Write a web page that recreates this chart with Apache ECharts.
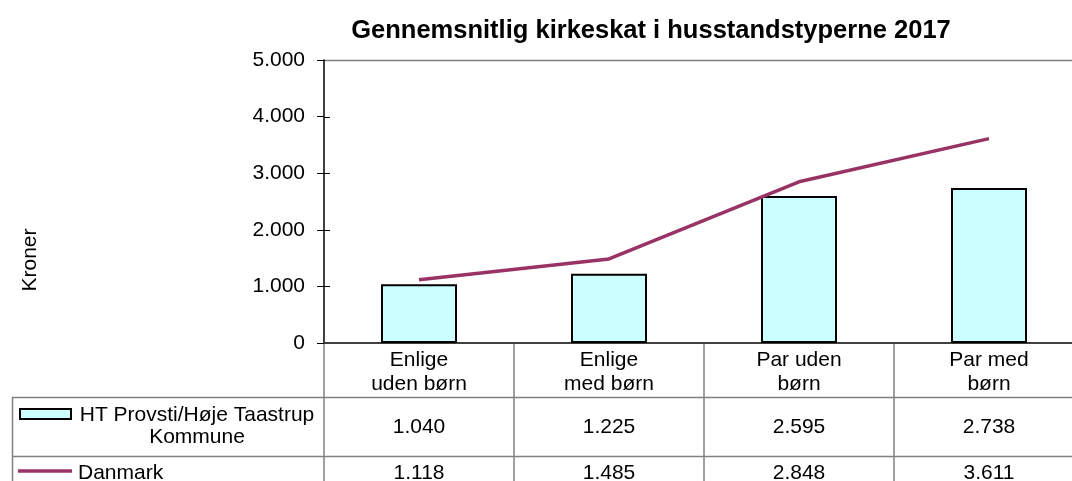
<!DOCTYPE html>
<html>
<head>
<meta charset="utf-8">
<title>Gennemsnitlig kirkeskat i husstandstyperne 2017</title>
<script src="https://cdn.jsdelivr.net/npm/echarts@6/dist/echarts.min.js"></script>
<style>
  html, body { margin: 0; padding: 0; background: #fff; }
  #chart { width: 1072px; height: 481px; }
</style>
</head>
<body>
<div id="chart"></div>
<script>
// data
var categories = ['Enlige\nuden børn', 'Enlige\nmed børn', 'Par uden\nbørn', 'Par med\nbørn'];
var seriesNames = ['HT Provsti/Høje Taastrup\nKommune', 'Danmark'];
var htValues = [1040, 1225, 2595, 2738];
var dkValues = [1118, 1485, 2848, 3611];
var yTicks = [0, 1000, 2000, 3000, 4000, 5000];

var FONT = '"Liberation Sans", Arial, sans-serif';
var FS = 21;

// danish thousands separator
function fmt(v) {
    return String(v).replace(/\B(?=(\d{3})+(?!\d))/g, '.');
}

var gridLeft = 324, gridTop = 60, gridBottomY = 343, gridWidth = 760;
var tableGray = '#808080';

var chart = echarts.init(document.getElementById('chart'));

var option = {
    animation: false,
    title: {
        text: 'Gennemsnitlig kirkeskat i husstandstyperne 2017',
        left: 646,
        top: 13,
        textAlign: 'center',
        textStyle: { fontFamily: FONT, fontSize: 25.5, fontWeight: 'bold', color: '#000' }
    },
    grid: {
        left: gridLeft, top: gridTop, width: gridWidth, height: gridBottomY - gridTop,
        outerBoundsMode: 'none'
    },
    xAxis: [{
        type: 'category',
        data: categories,
        axisLine: { lineStyle: { color: '#404040', width: 2 } },
        axisTick: { show: false },
        axisLabel: {
            margin: 5, fontFamily: FONT, fontSize: FS, lineHeight: 24, color: '#000', align: 'center'
        }
    }, {
        type: 'category',
        data: htValues.map(fmt),
        position: 'bottom',
        offset: 72,
        axisLine: { show: false },
        axisTick: { show: false },
        axisLabel: { margin: 0, fontFamily: FONT, fontSize: FS, lineHeight: 24, color: '#000' }
    }, {
        type: 'category',
        data: dkValues.map(fmt),
        position: 'bottom',
        offset: 118,
        axisLine: { show: false },
        axisTick: { show: false },
        axisLabel: { margin: 0, fontFamily: FONT, fontSize: FS, lineHeight: 24, color: '#000' }
    }],
    yAxis: {
        type: 'value',
        min: yTicks[0],
        max: yTicks[yTicks.length - 1],
        interval: 1000,
        axisLine: { show: true, lineStyle: { color: '#000', width: 1.5 } },
        axisTick: { show: true, length: 7, lineStyle: { color: '#000' } },
        splitLine: { show: false },
        axisLabel: {
            margin: 19, fontFamily: FONT, fontSize: FS, color: '#000',
            formatter: function (v) { return fmt(v); }
        }
    },
    series: [{
        name: seriesNames[0],
        type: 'bar',
        data: htValues,
        barWidth: 76,
        itemStyle: { color: '#CCFFFF', borderColor: '#000', borderWidth: 2 }
    }, {
        name: seriesNames[1],
        type: 'line',
        data: dkValues,
        symbol: 'none',
        lineStyle: { color: '#993366', width: 3.5 }
    }],
    graphic: [
        // plot area top border
        { type: 'line', shape: { x1: gridLeft, y1: gridTop + 0.5, x2: 1072, y2: gridTop + 0.5 }, style: { stroke: tableGray, lineWidth: 1.5 } },
        // data table rules
        { type: 'line', shape: { x1: 12, y1: 397.5, x2: 1072, y2: 397.5 }, style: { stroke: tableGray, lineWidth: 1.5 } },
        { type: 'line', shape: { x1: 12, y1: 456.5, x2: 1072, y2: 456.5 }, style: { stroke: tableGray, lineWidth: 1.5 } },
        { type: 'line', shape: { x1: 12.5, y1: 397, x2: 12.5, y2: 481 }, style: { stroke: tableGray, lineWidth: 1.5 } },
        { type: 'line', shape: { x1: 324, y1: 343, x2: 324, y2: 481 }, style: { stroke: tableGray, lineWidth: 1.5 } },
        { type: 'line', shape: { x1: 514, y1: 343, x2: 514, y2: 481 }, style: { stroke: tableGray, lineWidth: 1.5 } },
        { type: 'line', shape: { x1: 704, y1: 343, x2: 704, y2: 481 }, style: { stroke: tableGray, lineWidth: 1.5 } },
        { type: 'line', shape: { x1: 894, y1: 343, x2: 894, y2: 481 }, style: { stroke: tableGray, lineWidth: 1.5 } },
        // legend keys in the table
        { type: 'rect', shape: { x: 20, y: 409, width: 51, height: 10 }, style: { fill: '#CCFFFF', stroke: '#000', lineWidth: 2 } },
        { type: 'line', shape: { x1: 18, y1: 471, x2: 72, y2: 471 }, style: { stroke: '#993366', lineWidth: 3.5 } },
        {
            type: 'text', x: 197, y: 404,
            style: {
                text: seriesNames[0], fontFamily: FONT, fontSize: FS, lineHeight: 22,
                fill: '#000', align: 'center', verticalAlign: 'top'
            }
        },
        {
            type: 'text', x: 78, y: 473,
            style: { text: seriesNames[1], fontFamily: FONT, fontSize: FS, fill: '#000', align: 'left', verticalAlign: 'middle' }
        },
        // axis title
        {
            type: 'text', x: 30, y: 260, rotation: Math.PI / 2,
            style: { text: 'Kroner', fontFamily: FONT, fontSize: FS, fill: '#000', align: 'center', verticalAlign: 'middle' }
        }
    ]
};

chart.setOption(option);

// inner half of the crossing y ticks, placed through the axis scale
var innerTicks = yTicks.slice(1, -1).map(function (v) {
    var y = Math.round(chart.convertToPixel({ yAxisIndex: 0 }, v)) + 0.5;
    return { type: 'line', shape: { x1: gridLeft, y1: y, x2: gridLeft + 6, y2: y }, style: { stroke: '#000', lineWidth: 1 } };
});
chart.setOption({ graphic: option.graphic.concat(innerTicks) });
</script>
</body>
</html>
